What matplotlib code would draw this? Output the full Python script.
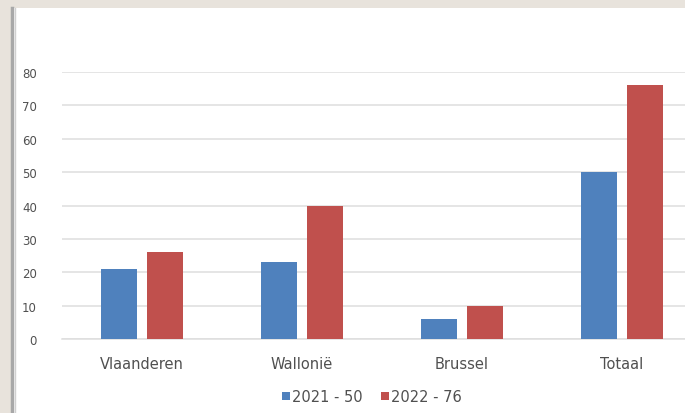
import matplotlib.pyplot as plt
import numpy as np
from matplotlib.patches import Rectangle
from matplotlib.lines import Line2D

categories = ["Vlaanderen", "Wallonië", "Brussel", "Totaal"]
values_2021 = [21, 23, 6, 50]
values_2022 = [26, 40, 10, 76]
series_labels = ["2021 - 50", "2022 - 76"]
colors = ["#4f81bd", "#c0504d"]

W, H = 685, 414
beige = "#e8e3dc"
fig = plt.figure(figsize=(W / 100, H / 100), dpi=100)
fig.set_facecolor("white")

# beige frame at top and left, grey edge line
fig.patches.append(Rectangle((0, 1 - 9 / H), 1, 9 / H, transform=fig.transFigure,
                             facecolor=beige, edgecolor="none", zorder=-5))
fig.patches.append(Rectangle((0, 0), 11 / W, 1, transform=fig.transFigure,
                             facecolor=beige, edgecolor="none", zorder=-5))
fig.lines.append(Line2D([12.5 / W, 12.5 / W], [0, 1 - 9 / H], transform=fig.transFigure,
                        color="#a8a8a8", lw=2.5))
fig.lines.append(Line2D([14.5 / W, 14.5 / W], [0, 1 - 9 / H], transform=fig.transFigure,
                        color="#d0d0d0", lw=1))

# plot area: x from 62px to right edge, y=0 at 340px, y=80 at 73px
ax = fig.add_axes([62 / W, (H - 340) / H, (W - 62) / W, (340 - 73) / H])
ax.patch.set_alpha(0)

x = np.arange(len(categories))
bw = 36 / 160
gap = 10 / 160
ax.bar(x - (bw + gap) / 2, values_2021, bw, color=colors[0], label=series_labels[0], zorder=3)
ax.bar(x + (bw + gap) / 2, values_2022, bw, color=colors[1], label=series_labels[1], zorder=3)

ax.set_xlim(-0.5, -0.5 + (W - 62) / 160)
ax.set_ylim(0, 80)
ax.set_yticks(range(0, 81, 10))
ax.yaxis.grid(True, color="#dedede", lw=1.1, zorder=0)
ax.set_xticks(x)
ax.set_xticklabels(categories)
ax.tick_params(axis="both", length=0, colors="#505050")
ax.tick_params(axis="x", pad=12, labelsize=10.5)
ax.tick_params(axis="y", pad=18, labelsize=8.5)
for s in ["left", "right", "top"]:
    ax.spines[s].set_visible(False)
ax.spines["bottom"].set_color("#dedede")
ax.spines["bottom"].set_linewidth(1.1)

fig.legend(loc="center", bbox_to_anchor=(372 / W, 1 - 398 / H), ncol=2, frameon=False,
           fontsize=10.5, handlelength=0.5, handleheight=0.5, handletextpad=0.15,
           columnspacing=1.3, labelcolor="#505050")

fig.savefig("out.png", dpi=100, facecolor=fig.get_facecolor())
